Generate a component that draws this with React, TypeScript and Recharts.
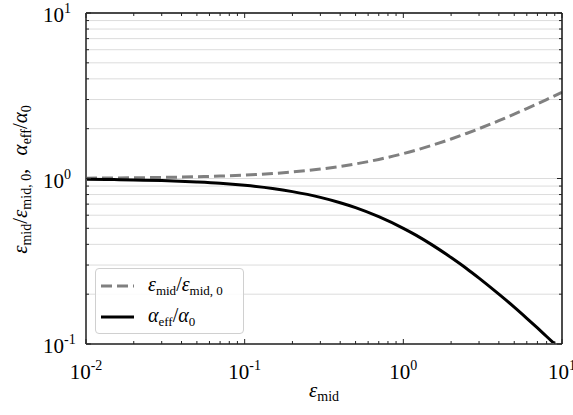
import {
  CartesianGrid,
  Legend,
  Line,
  LineChart,
  XAxis,
  YAxis,
} from "recharts";

// values (log-log axes)
const epsMid = [
  0.01, 0.015, 0.02, 0.03, 0.05, 0.07, 0.1, 0.15, 0.2, 0.3, 0.4, 0.5, 0.7, 1,
  1.2, 1.5, 2, 2.5, 3, 4, 5, 6, 7, 8, 10,
];
const epsRatio = [
  1.005, 1.007, 1.01, 1.015, 1.025, 1.034, 1.049, 1.072, 1.095, 1.14, 1.183,
  1.225, 1.304, 1.414, 1.483, 1.581, 1.732, 1.871, 2.0, 2.236, 2.449, 2.646,
  2.828, 3.0, 3.317,
];
const alphaRatio = [
  0.99, 0.985, 0.98, 0.971, 0.952, 0.935, 0.909, 0.87, 0.833, 0.769, 0.714,
  0.667, 0.588, 0.5, 0.455, 0.4, 0.333, 0.286, 0.25, 0.2, 0.167, 0.143, 0.125,
  0.111, 0.091,
];

const xMajor = [0.01, 0.1, 1, 10];
const yMajor = [0.1, 1, 10];
const xTicks = [
  0.01, 0.02, 0.03, 0.04, 0.05, 0.06, 0.07, 0.08, 0.09,
  0.1, 0.2, 0.3, 0.4, 0.5, 0.6, 0.7, 0.8, 0.9,
  1, 2, 3, 4, 5, 6, 7, 8, 9, 10,
];
const yTicks = [
  0.1, 0.2, 0.3, 0.4, 0.5, 0.6, 0.7, 0.8, 0.9,
  1, 2, 3, 4, 5, 6, 7, 8, 9, 10,
];

const data = epsMid.map((x, i) => ({
  x,
  eps: epsRatio[i],
  alpha: alphaRatio[i],
}));

const FONT = "Liberation Serif";

const isMajor = (v: number, list: number[]) =>
  list.some((m) => Math.abs(m - v) / m < 1e-6);

const expOf = (v: number) => String(Math.round(Math.log10(v)));

function BottomTick({ x, y, payload }: any) {
  const major = isMajor(payload.value, xMajor);
  return (
    <g>
      <line x1={x} x2={x} y1={y} y2={y - (major ? 5 : 3)} stroke="#222" strokeWidth={1} />
      {major && (
        <text x={x} y={y + 35} textAnchor="middle" fontFamily={FONT} fontSize={21} fill="#000">
          10
          <tspan dy={-9} fontSize={14}>{expOf(payload.value)}</tspan>
        </text>
      )}
    </g>
  );
}

function TopTick({ x, y, payload }: any) {
  const major = isMajor(payload.value, xMajor);
  return <line x1={x} x2={x} y1={y} y2={y + (major ? 5 : 3)} stroke="#222" strokeWidth={1} />;
}

function LeftTick({ x, y, payload }: any) {
  const major = isMajor(payload.value, yMajor);
  return (
    <g>
      <line x1={x} x2={x + (major ? 5 : 3)} y1={y} y2={y} stroke="#222" strokeWidth={1} />
      {major && (
        <text x={x - 22} y={y + 9} textAnchor="end" fontFamily={FONT} fontSize={21} fill="#000">
          10
        </text>
      )}
      {major && (
        <text x={x - 22} y={y} textAnchor="start" fontFamily={FONT} fontSize={14} fill="#000">
          {expOf(payload.value)}
        </text>
      )}
    </g>
  );
}

function RightTick({ x, y, payload }: any) {
  const major = isMajor(payload.value, yMajor);
  return <line x1={x} x2={x - (major ? 5 : 3)} y1={y} y2={y} stroke="#222" strokeWidth={1} />;
}

function XTitle({ viewBox }: any) {
  const cx = viewBox.x + viewBox.width / 2;
  return (
    <text x={cx} y={397} textAnchor="middle" fontFamily={FONT} fontSize={21} fill="#000">
      <tspan fontStyle="italic">ε</tspan>
      <tspan fontSize={14} dy={4}>mid</tspan>
    </text>
  );
}

function YTitle({ viewBox }: any) {
  const cy = viewBox.y + viewBox.height / 2 + 1;
  const bx = 27;
  return (
    <text
      x={bx}
      y={cy}
      transform={`rotate(-90, ${bx}, ${cy})`}
      textAnchor="middle"
      fontFamily={FONT}
      fontSize={21}
      fill="#000"
    >
      <tspan fontStyle="italic">ε</tspan>
      <tspan fontSize={14} dy={4}>mid</tspan>
      <tspan dy={-4}>/</tspan>
      <tspan fontStyle="italic">ε</tspan>
      <tspan fontSize={14} dy={4}>mid, 0</tspan>
      <tspan dy={-4}>, </tspan>
      <tspan fontStyle="italic" dx={8}>α</tspan>
      <tspan fontSize={14} dy={4}>eff</tspan>
      <tspan dy={-4}>/</tspan>
      <tspan fontStyle="italic">α</tspan>
      <tspan fontSize={14} dy={4}>0</tspan>
    </text>
  );
}

function LegendBox() {
  const row: React.CSSProperties = {
    display: "flex",
    alignItems: "center",
    height: 31,
  };
  const sub: React.CSSProperties = { fontSize: 13, verticalAlign: "-4px" };
  return (
    <div
      style={{
        width: 149,
        height: 66,
        boxSizing: "border-box",
        border: "1px solid #d0d0d0",
        borderRadius: 4,
        background: "rgba(255,255,255,0.85)",
        fontFamily: FONT,
        fontSize: 20,
        color: "#000",
        padding: "1px 0 0 5px",
      }}
    >
      <div style={row}>
        <svg width={33} height={10} style={{ marginRight: 14 }}>
          <line x1={0} x2={33} y1={5} y2={5} stroke="#808080" strokeWidth={3} strokeDasharray="11 5" />
        </svg>
        <span>
          <i>ε</i>
          <span style={sub}>mid</span>/<i>ε</i>
          <span style={sub}>mid, 0</span>
        </span>
      </div>
      <div style={row}>
        <svg width={33} height={10} style={{ marginRight: 14 }}>
          <line x1={0} x2={33} y1={5} y2={5} stroke="#000" strokeWidth={3} />
        </svg>
        <span>
          <i>α</i>
          <span style={sub}>eff</span>/<i>α</i>
          <span style={sub}>0</span>
        </span>
      </div>
    </div>
  );
}

export default function App() {
  return (
    <div style={{ position: "absolute", left: 0, top: 0, background: "#fff", fontFamily: FONT }}>
      <LineChart
        width={573}
        height={415}
        data={data}
        margin={{ top: 0, right: 0, bottom: 0, left: 0 }}
      >
        <CartesianGrid vertical={false} stroke="#dcdcdc" strokeWidth={1} />
        <XAxis
          dataKey="x"
          type="number"
          scale="log"
          domain={[0.01, 10]}
          allowDataOverflow
          ticks={xTicks}
          interval={0}
          tickSize={0}
          tickMargin={0}
          tick={<BottomTick />}
          height={71}
          stroke="#555"
          strokeWidth={2}
          label={<XTitle />}
        />
        <XAxis
          xAxisId="top"
          orientation="top"
          dataKey="x"
          type="number"
          scale="log"
          domain={[0.01, 10]}
          allowDataOverflow
          ticks={xTicks}
          interval={0}
          tickSize={0}
          tickMargin={0}
          tick={<TopTick />}
          height={13}
          stroke="#111"
          strokeWidth={1.5}
        />
        <YAxis
          type="number"
          scale="log"
          domain={[0.1, 10]}
          allowDataOverflow
          ticks={yTicks}
          interval={0}
          tickSize={0}
          tickMargin={0}
          tick={<LeftTick />}
          width={86}
          stroke="#555"
          strokeWidth={2}
          label={<YTitle />}
        />
        <YAxis
          yAxisId="right"
          orientation="right"
          type="number"
          scale="log"
          domain={[0.1, 10]}
          allowDataOverflow
          ticks={yTicks}
          interval={0}
          tickSize={0}
          tickMargin={0}
          tick={<RightTick />}
          width={11}
          stroke="#111"
          strokeWidth={1.5}
        />
        <Legend
          layout="vertical"
          align="center"
          verticalAlign="middle"
          content={<LegendBox />}
          wrapperStyle={{ left: 95, top: 268, width: 149, height: 66 }}
        />
        <Line
          dataKey="eps"
          type="monotone"
          stroke="#808080"
          strokeWidth={3}
          strokeDasharray="11 5"
          dot={false}
          isAnimationActive={false}
        />
        <Line
          dataKey="alpha"
          type="monotone"
          stroke="#000"
          strokeWidth={3}
          dot={false}
          isAnimationActive={false}
        />
      </LineChart>
    </div>
  );
}
